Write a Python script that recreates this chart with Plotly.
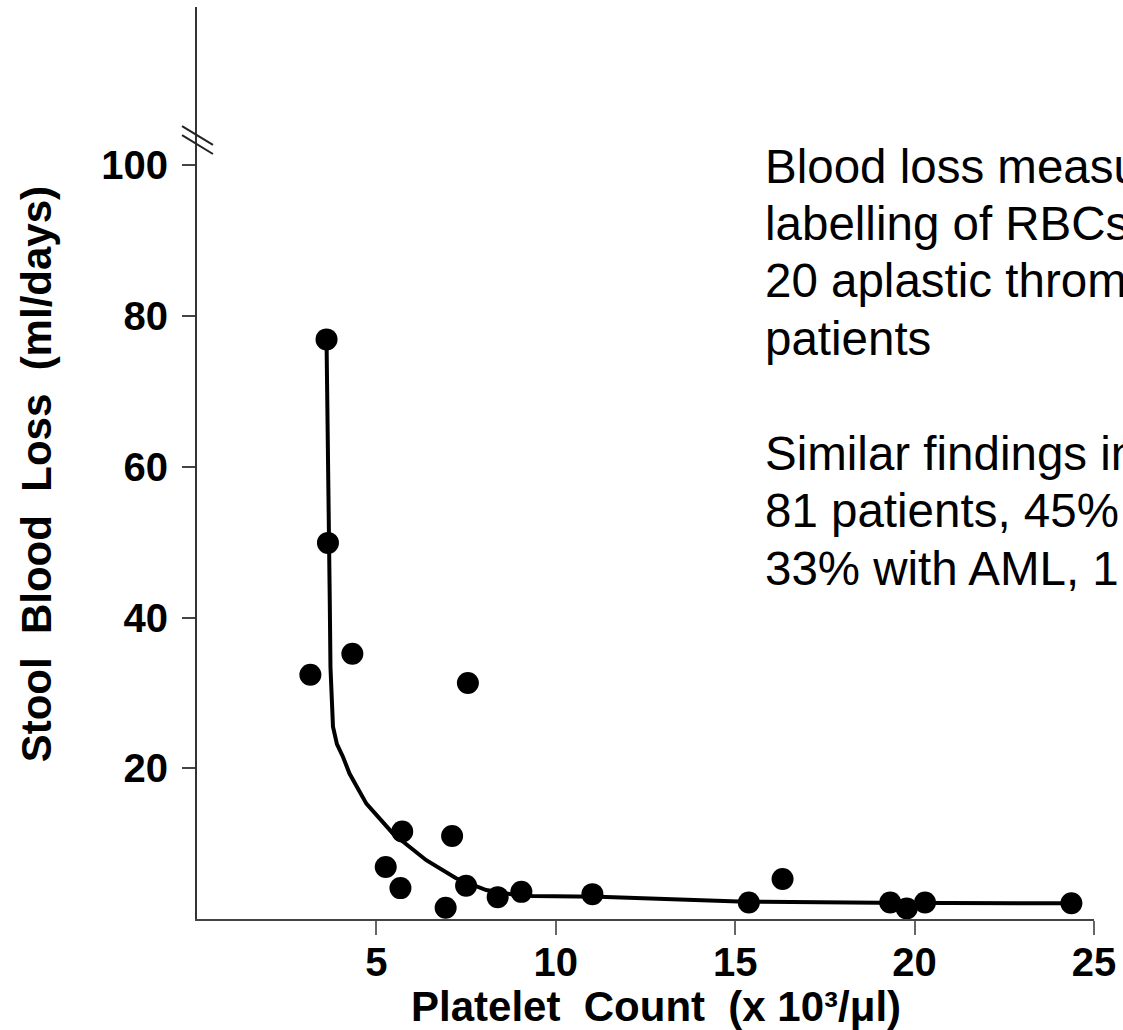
import plotly.graph_objects as go

# ---- data ----
platelet = [3.61, 3.65, 3.16, 4.33, 7.55, 5.72, 7.11, 5.26, 5.67, 6.93,
            7.50, 8.38, 9.04, 11.02, 15.38, 16.32, 19.32, 19.78, 20.29, 24.37]
blood_loss = [76.9, 49.9, 32.4, 35.2, 31.3, 11.6, 11.0, 6.9, 4.1, 1.5,
              4.4, 2.9, 3.6, 3.3, 2.2, 5.3, 2.2, 1.4, 2.2, 2.1]

curve_x = [3.61, 3.66, 3.70, 3.72, 3.76, 3.79, 3.90, 4.07, 4.25, 4.72, 5.46,
           6.39, 7.22, 8.06, 8.89, 9.35, 11.2, 15.3, 19.0, 24.36]
curve_y = [76.8, 49.8, 42.3, 33.4, 28.5, 25.5, 23.2, 21.5, 19.3, 15.3, 11.35,
           7.8, 5.4, 3.84, 3.18, 3.05, 2.95, 2.3, 2.16, 2.08]

x_ticks = [5, 10, 15, 20, 25]
y_ticks = [20, 40, 60, 80, 100]

x_title = "Platelet\u00a0 Count\u00a0 (x 10³/μl)"
y_title = "Stool\u00a0 Blood\u00a0 Loss\u00a0 (ml/days)"

note_lines = [
    "Blood loss measured",
    "labelling of RBCs",
    "20 aplastic thrombocytopenic",
    "patients",
    "",
    "Similar findings in",
    "81 patients, 45%",
    "33% with AML, 1",
]

# ---- layout geometry (pixels) ----
W, H = 1123, 1030
L, R, T, B = 197, 27, 7, 111
PW, PH = W - L - R, H - T - B
FAMILY = "Liberation Sans, Arial, sans-serif"


def px_x(p):
    return (p - L) / PW


def px_y(p):
    return (H - B - p) / PH


fig = go.Figure()
fig.add_trace(go.Scatter(x=curve_x, y=curve_y, mode="lines",
                         line=dict(color="black", width=4),
                         hoverinfo="skip", showlegend=False))
fig.add_trace(go.Scatter(x=platelet, y=blood_loss, mode="markers",
                         marker=dict(color="black", size=22),
                         showlegend=False))

tick_font = dict(family=FAMILY, size=40, color="black", weight="bold")

fig.update_layout(
    width=W, height=H,
    margin=dict(l=L, r=R, t=T, b=B),
    paper_bgcolor="white", plot_bgcolor="white",
    font=dict(family=FAMILY, color="black"),
    xaxis=dict(range=[0, 25], tickvals=x_ticks, ticks="outside", ticklen=14,
               tickwidth=2, tickcolor="#666", showline=True, linecolor="#444",
               linewidth=2, showgrid=False, zeroline=False,
               tickfont=tick_font, ticklabelstandoff=-7),
    yaxis=dict(range=[0, 121], tickvals=y_ticks, ticks="outside", ticklen=13,
               tickwidth=2, tickcolor="#444", showline=True, linecolor="#333",
               linewidth=2, showgrid=False, zeroline=False,
               tickfont=tick_font, ticklabelstandoff=6),
)

# axis titles
fig.add_annotation(text="<b>" + x_title + "</b>", xref="paper", yref="paper",
                   x=px_x(657), y=px_y(1006), xanchor="center", yanchor="middle",
                   showarrow=False,
                   font=dict(size=42, color="black", family=FAMILY))
fig.add_annotation(text="<b>" + y_title + "</b>", xref="paper", yref="paper",
                   x=px_x(36), y=px_y(474), xanchor="center", yanchor="middle",
                   textangle=-90, showarrow=False,
                   font=dict(size=42, color="black", family=FAMILY))

# axis break marks
for y0, y1 in [(105.2, 102.7), (104.0, 101.5)]:
    fig.add_shape(type="line", xref="paper", yref="y",
                  x0=px_x(182), x1=px_x(213), y0=y0, y1=y1,
                  line=dict(color="#222", width=2))

# note text on the right
NOTE_SIZE = 47.5
base0 = 182.7
step = 57.45
for i, line in enumerate(note_lines):
    if not line:
        continue
    baseline = base0 + i * step
    fig.add_annotation(text=line, xref="paper", yref="paper",
                       x=px_x(764), y=px_y(baseline - 0.35 * NOTE_SIZE),
                       xanchor="left", yanchor="middle", showarrow=False,
                       align="left",
                       font=dict(size=NOTE_SIZE, color="black", family=FAMILY))

fig.write_html("out.html", config={"displayModeBar": False},
               post_script="document.body.style.margin='0';")
